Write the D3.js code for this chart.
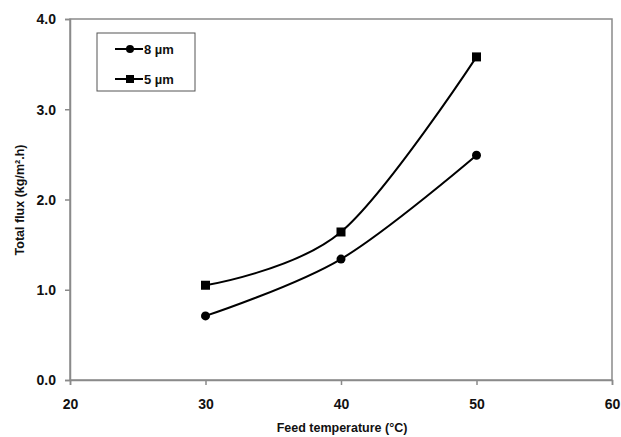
<!DOCTYPE html>
<html><head><meta charset="utf-8">
<script src="https://cdn.jsdelivr.net/npm/d3@7"></script>
<style>body{margin:0;background:#fff}svg{display:block}text{font-family:"Liberation Sans",Arial,sans-serif;font-weight:bold;fill:#111}</style>
</head><body>
<svg id="c" width="621" height="437"></svg>
<script>
const temps = [30, 40, 50];
const flux8 = [0.71, 1.34, 2.49];
const flux5 = [1.05, 1.64, 3.58];
const seriesNames = ["8 µm", "5 µm"];
const xTicks = [20, 30, 40, 50, 60];
const yTicks = [0, 1, 2, 3, 4];

const svg = d3.select("#c");
const m = {l:70, r:612, t:19, b:380};
const x = d3.scaleLinear().domain([20,60]).range([m.l, m.r]);
const y = d3.scaleLinear().domain([0,4]).range([m.b, m.t]);

svg.append("rect").attr("x", m.l).attr("y", m.t).attr("width", m.r-m.l).attr("height", m.b-m.t)
  .attr("fill","none").attr("stroke","#8a8a8a").attr("stroke-width",1.5);

const xa = svg.append("g").attr("transform",`translate(0,${m.b})`)
  .call(d3.axisBottom(x).tickValues(xTicks).tickSize(5).tickPadding(9).tickFormat(d3.format("d")));
const ya = svg.append("g").attr("transform",`translate(${m.l},0)`)
  .call(d3.axisLeft(y).tickValues(yTicks).tickSize(5).tickPadding(9).tickFormat(d3.format(".1f")));
[xa, ya].forEach(g => {
  g.select(".domain").attr("stroke","#8a8a8a").attr("stroke-width",1.5);
  g.selectAll(".tick line").attr("stroke","#8a8a8a").attr("stroke-width",1.5);
  g.selectAll(".tick text").attr("font-size",14).attr("font-family","Liberation Sans, Arial, sans-serif").attr("font-weight","bold").attr("fill","#111");
});
xa.selectAll(".tick text").attr("dy","1.05em");
ya.selectAll(".tick text").attr("dy","0.35em");

svg.append("text").attr("x", 342).attr("y", 432).attr("text-anchor","middle").attr("font-size",12.5).text("Feed temperature (°C)");
svg.append("text").attr("transform","translate(24,200) rotate(-90)").attr("text-anchor","middle").attr("font-size",12.5)
  .text("Total flux (kg/m².h)");

const line = d3.line().x((d,i)=>x(temps[i])).y(d=>y(d)).curve(d3.curveCardinal);
[flux8, flux5].forEach((s, k) => {
  svg.append("path").attr("d", line(s)).attr("fill","none").attr("stroke","#000").attr("stroke-width",2);
  s.forEach((v,i) => {
    if (k===0) svg.append("circle").attr("cx",x(temps[i])).attr("cy",y(v)).attr("r",4.5).attr("fill","#000");
    else svg.append("rect").attr("x",x(temps[i])-4.5).attr("y",y(v)-4.5).attr("width",9).attr("height",9).attr("fill","#000");
  });
});

const lg = svg.append("g");
lg.append("rect").attr("x",97).attr("y",33).attr("width",98).attr("height",58).attr("fill","#fff").attr("stroke","#555").attr("stroke-width",1);
seriesNames.forEach((n,k) => {
  const ly = k===0 ? 49 : 79;
  lg.append("line").attr("x1",115).attr("x2",143).attr("y1",ly).attr("y2",ly).attr("stroke","#000").attr("stroke-width",2);
  if (k===0) lg.append("circle").attr("cx",130).attr("cy",ly).attr("r",4).attr("fill","#000");
  else lg.append("rect").attr("x",126).attr("y",ly-4).attr("width",8).attr("height",8).attr("fill","#000");
  lg.append("text").attr("x",144).attr("y",ly+4.5).attr("font-size",13).attr("font-weight","normal").text(n);
});
</script>
</body></html>
